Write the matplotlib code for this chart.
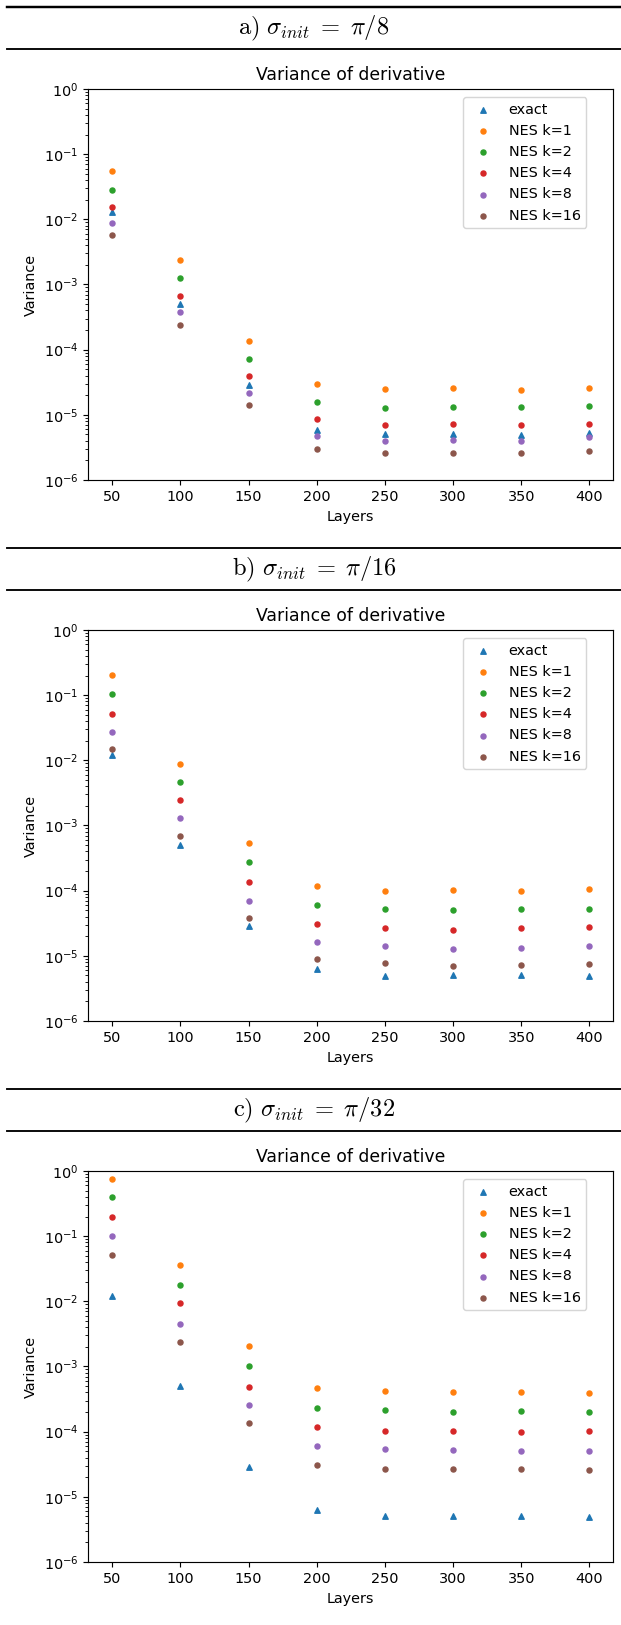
import numpy as np
import matplotlib
matplotlib.use("Agg")
import matplotlib.pyplot as plt
from matplotlib.lines import Line2D

plt.rcParams['mathtext.fontset'] = 'cm'

layers = [50, 100, 150, 200, 250, 300, 350, 400]
labels = ['exact', 'NES k=1', 'NES k=2', 'NES k=4', 'NES k=8', 'NES k=16']
headers = [r'$\mathrm{a)}\ \sigma_{init} \;=\; \pi/8$',
           r'$\mathrm{b)}\ \sigma_{init} \;=\; \pi/16$',
           r'$\mathrm{c)}\ \sigma_{init} \;=\; \pi/32$']

### sigma = pi/8
exact_a = [0.0128, 5.0e-4, 2.85e-5, 5.9e-6, 5.1e-6, 5.06e-6, 4.9e-6, 5.24e-6]
k1_a = [0.0558, 0.00236, 1.36e-4, 2.99e-5, 2.48e-5, 2.57e-5, 2.39e-5, 2.57e-5]
k2_a = [0.0286, 0.00125, 7.3e-5, 1.58e-5, 1.27e-5, 1.32e-5, 1.32e-5, 1.36e-5]
k4_a = [0.0157, 6.6e-4, 3.9e-5, 8.7e-6, 6.95e-6, 7.2e-6, 6.95e-6, 7.2e-6]
k8_a = [0.0089, 3.76e-4, 2.2e-5, 4.76e-6, 3.99e-6, 4.14e-6, 3.99e-6, 4.49e-6]
k16_a = [0.00577, 2.4e-4, 1.41e-5, 3.04e-6, 2.64e-6, 2.64e-6, 2.55e-6, 2.74e-6]

### sigma = pi/16
exact_b = [0.0119, 5.02e-4, 2.87e-5, 6.2e-6, 4.9e-6, 5.08e-6, 5.08e-6, 4.9e-6]
k1_b = [0.206, 0.00869, 5.45e-4, 1.18e-4, 9.78e-5, 1.01e-4, 9.78e-5, 1.05e-4]
k2_b = [0.105, 0.0046, 2.79e-4, 6.03e-5, 5.18e-5, 5.0e-5, 5.18e-5, 5.18e-5]
k4_b = [0.052, 0.00244, 1.36e-4, 3.08e-5, 2.64e-5, 2.47e-5, 2.64e-5, 2.74e-5]
k8_b = [0.0275, 0.00129, 7.03e-5, 1.63e-5, 1.4e-5, 1.26e-5, 1.3e-5, 1.4e-5]
k16_b = [0.0151, 6.83e-4, 3.86e-5, 8.95e-6, 7.76e-6, 6.9e-6, 7.16e-6, 7.41e-6]

### sigma = pi/32
exact_c = [0.0121, 5.02e-4, 2.84e-5, 6.2e-6, 5.08e-6, 5.08e-6, 5.08e-6, 4.9e-6]
k1_c = [0.762, 0.0357, 0.00209, 4.68e-4, 4.21e-4, 4.06e-4, 4.06e-4, 3.92e-4]
k2_c = [0.404, 0.0176, 0.00103, 2.31e-4, 2.15e-4, 1.98e-4, 2.07e-4, 1.98e-4]
k4_c = [0.199, 0.00933, 4.9e-4, 1.18e-4, 1.01e-4, 1.01e-4, 9.78e-5, 1.01e-4]
k8_c = [0.1016, 0.00444, 2.6e-4, 6.03e-5, 5.36e-5, 5.18e-5, 5.0e-5, 5.0e-5]
k16_c = [0.052, 0.00235, 1.37e-4, 3.08e-5, 2.64e-5, 2.64e-5, 2.64e-5, 2.55e-5]

panels = [[exact_a, k1_a, k2_a, k4_a, k8_a, k16_a],
          [exact_b, k1_b, k2_b, k4_b, k8_b, k16_b],
          [exact_c, k1_c, k2_c, k4_c, k8_c, k16_c]]

W = 621
H = 1625
dpi = 103.6
fig = plt.figure(figsize=((W + 0.01) / dpi, (H + 0.01) / dpi), dpi=dpi)

# pixel positions (from top) of each block
step = 541
for p in range(3):
    off = p * step
    # header rules
    for y, lw in [(7 + off, 1.7 if p == 0 else 1.3), (49 + off, 1.3)]:
        fig.add_artist(Line2D([7 / W, 1.0], [1 - y / H, 1 - y / H],
                              transform=fig.transFigure, color='black', lw=lw))
    fig.text(314 / W, 1 - (28 + off) / H, headers[p], ha='center', va='center',
             fontsize=17)

    ax = fig.add_axes([88.3 / W, 1 - (480 + off) / H, 525 / W, 391 / H])
    data = panels[p]
    for i in range(len(data)):
        if i == 0:
            ax.scatter(layers, data[i], s=14, marker='^', color='C0', label=labels[i])
        else:
            ax.scatter(layers, data[i], s=12, color='C%d' % i, label=labels[i])
    ax.set_yscale('log')
    ax.set_ylim(1e-6, 1)
    ax.set_title('Variance of derivative')
    ax.set_xlabel('Layers')
    ax.set_ylabel('Variance')
    ax.legend(loc='upper left', bbox_to_anchor=(0.713, 0.980), borderaxespad=0)

plt.savefig('out.png', dpi=dpi)
